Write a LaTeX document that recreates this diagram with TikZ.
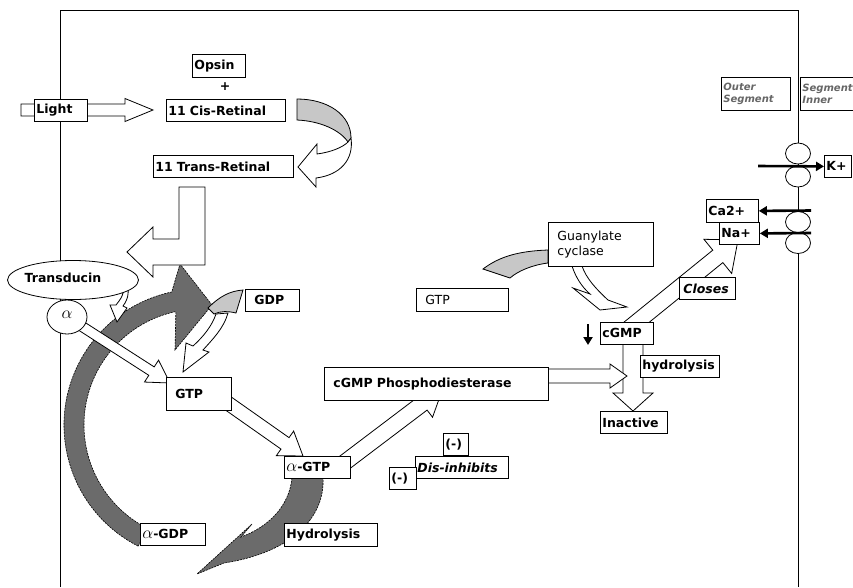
\documentclass[tikz,border=0pt]{standalone}
\usepackage{fontspec}
\setmainfont{DejaVu Sans}
\usetikzlibrary{calc,arrows.meta,shapes.geometric}

\newcommand{\lbl}{\fontsize{12.5}{14}\selectfont\bfseries}
\newcommand{\reg}{\fontsize{12.5}{15.5}\selectfont}
\newcommand{\seg}{\fontsize{10}{12}\selectfont\bfseries\itshape}
\newcommand{\alp}{{\fontsize{16}{16}\selectfont$\alpha$}}

\tikzset{
  lblbox/.style={draw, fill=white, line width=0.8pt, inner xsep=2pt, inner ysep=0pt, anchor=north west, align=left, font=\lbl},
  hollow/.style={draw, fill=white, line width=0.8pt, line join=miter},
  darkband/.style={fill=black!58, draw=black, dash pattern=on 2pt off 1pt, line width=0.6pt},
  flag/.style={draw, fill=black!22, line width=0.8pt},
  ion/.style={-{Triangle[length=8pt,width=9pt]}, line width=2.6pt},
  channel/.style={draw, fill=white, ellipse, minimum width=25pt, minimum height=21pt, line width=0.8pt},
}

% box with its top left corner at x,y
\newcommand{\labelbox}[7][]{%
  \pgfmathsetmacro{\bxw}{#5-4}%
  \node[lblbox,text width=\bxw pt,minimum height=#6pt,#1] (#2) at (#3,#4) {#7};}

% hollow straight arrow: tail, tip, shaft half width, head half width, head length
\newcommand{\fatarrow}[5]{%
  \coordinate (fa-base) at ($(#2)!#5pt!(#1)$);
  \draw[hollow] ($(#1)!#3pt!90:(#2)$) -- ($(fa-base)!#3pt!-90:(#1)$) -- ($(fa-base)!#4pt!-90:(#1)$) -- (#2)
    -- ($(fa-base)!#4pt!90:(#1)$) -- ($(fa-base)!#3pt!90:(#1)$) -- ($(#1)!#3pt!-90:(#2)$) -- cycle;}

\begin{document}
\begin{tikzpicture}[x=1pt,y=-1pt]
\clip (0,0) rectangle (853,587);
\fill[white] (0,0) rectangle (853,587);
\draw[line width=0.8pt] (60,587) -- (60,10) -- (798,10) -- (798,587);

% transducin cycle
\draw[darkband] (200,425) ++(117:136) arc[start angle=117, end angle=258, radius=136]
  -- (180,264) -- (212,305) -- (175,350) -- ($(200,425)+(258:116)$)
  arc[start angle=258, end angle=117, radius=116] -- cycle;
\draw[darkband] (292,478) -- (323,478) .. controls (325,515) and (295,552) .. (224,563) -- (197,574)
  -- (252,524) -- (241,537) .. controls (268,527) and (289,507) .. (292,478) -- cycle;

% retinal
\draw[flag] (297,99) .. controls (328,99) and (351,115) .. (351,138) -- (348,142)
  .. controls (340,130) and (320,121) .. (297,120) -- cycle;
\draw[hollow] (351,138) .. controls (354,160) and (340,175) .. (316,178) -- (316,187) -- (298,167)
  -- (317,144) -- (317,154) .. controls (332,152) and (343,147) .. (348,142) -- cycle;
\draw[hollow] (179,187) -- (205,187) -- (205,265) -- (153,265) -- (153,277) -- (127,252)
  -- (153,227) -- (153,239) -- (179,239) -- cycle;

\draw[flag] (113,279) .. controls (120,276) and (126,280) .. (128,287) -- (123,293)
  .. controls (121,289) and (117,287) .. (114,289) -- cycle;
\draw[hollow] (128,287) .. controls (129,297) and (126,302) .. (123,306) -- (127,308) -- (117,322)
  -- (110,305) -- (116,305) .. controls (120,300) and (122,297) .. (123,293) -- cycle;

\draw[flag] (208,308) .. controls (220,296) and (230,291) .. (243,290) -- (236,313)
  .. controls (228,311) and (220,311) .. (214,314) -- cycle;
\draw[hollow] (228,313) .. controls (224,328) and (212,340) .. (203,350) -- (209,352) -- (183,372)
  -- (186,343) -- (193,346) .. controls (203,337) and (212,326) .. (216,314) -- cycle;

% guanylate cyclase
\draw[flag] (483,269) .. controls (500,256) and (520,251) .. (548,250) -- (548,263)
  .. controls (532,265) and (518,271) .. (510,278) -- cycle;
\draw[hollow] (572,266) .. controls (576,278) and (582,287) .. (590,294) -- (573,288) -- (600,310)
  -- (627,307) -- (608,300) .. controls (596,289) and (586,278) .. (582,266) -- cycle;

\coordinate (light-tail) at (21,110);
\coordinate (light-tip) at (153,110);
\fatarrow{light-tail}{light-tip}{6}{11.5}{28}
\coordinate (alpha-out) at (72,320);
\coordinate (gtpL-in) at (170,383);
\fatarrow{alpha-out}{gtpL-in}{5}{13}{22}
\coordinate (gtpL-out) at (212,392);
\coordinate (agtp-in) at (303,456);
\fatarrow{gtpL-out}{agtp-in}{7}{15}{22}
\coordinate (agtp-out) at (340,466);
\coordinate (pde-in) at (443,388);
\fatarrow{agtp-out}{pde-in}{8}{17}{26}
\coordinate (cgmp-out) at (633,340);
\coordinate (inactive-in) at (633,411);
\fatarrow{cgmp-out}{inactive-in}{10}{20}{18}
\coordinate (pde-out) at (545,376);
\coordinate (pde-tip) at (627,376);
\fatarrow{pde-out}{pde-tip}{7}{12}{17}
\coordinate (closes-tail) at (627,330);
\coordinate (closes-tip) at (738,240);
\fatarrow{closes-tail}{closes-tip}{8}{22}{26}

\labelbox{opsin}{192}{54}{53}{23}{Opsin}
\node[font=\lbl] (plus) at (225,87) {+};
\labelbox{cis}{166}{99}{119}{22}{11 Cis-Retinal}
\labelbox{light}{34}{99}{53}{22}{Light}
\labelbox{trans}{153}{155}{140}{22}{11 Trans-Retinal}
\node[ellipse, draw, fill=white, line width=0.8pt, minimum width=131pt, minimum height=39pt] (transducin) at (73,280) {};
\node[font=\lbl] (transducin-txt) at (63,278) {Transducin};
\node[ellipse, draw, fill=white, line width=0.8pt, minimum width=40pt, minimum height=34pt, inner sep=0pt] (alpha) at (67,317) {\raisebox{5pt}{\alp}};
\labelbox{gdp}{245}{289}{54}{22}{\hspace*{7pt}GDP}
\labelbox{gtpL}{166}{377}{65}{33}{\hspace*{7pt}GTP}
\labelbox{agtp}{284}{456}{66}{22}{\alp-GTP}
\labelbox{agdp}{140}{523}{65}{22}{\alp-GDP}
\labelbox{hydro}{284}{523}{93}{23}{Hydrolysis}
\labelbox{pde}{324}{367}{224}{33}{\hspace*{7pt}cGMP Phosphodiesterase}
\labelbox[font=\reg]{gtpR}{416}{288}{92}{23}{\hspace*{7pt}GTP}
\labelbox[font=\reg]{guan}{548}{222}{105}{44}{\hspace*{7pt}Guanylate\\\hspace*{7pt}cyclase}
\labelbox{cgmp}{600}{322}{53}{22}{cGMP}
\labelbox{hydr2}{640}{355}{79}{22}{hydrolysis}
\labelbox{inactive}{600}{411}{67}{22}{Inactive}
\labelbox[font=\lbl\itshape]{closes}{679}{277}{56}{22}{\hspace*{2pt}Closes}
\labelbox{minus1}{443}{433}{25}{22}{(-)}
\labelbox[font=\lbl\itshape]{disinh}{415}{456}{93}{22}{Dis-inhibits}
\labelbox{minus2}{389}{467}{27}{22}{(-)}

% membrane channels
\labelbox[font=\seg,text=black!60]{outer}{721}{77}{69}{33}{Outer\\Segment}
\labelbox[font=\seg,text=black!60]{inner}{800}{77}{60}{33}{Segment\\Inner}
\node[channel] (k-up) at (798,153.5) {};
\node[channel] (k-dn) at (798,176.5) {};
\node[channel] (c-up) at (798,222) {};
\node[channel] (c-dn) at (798,243) {};
\labelbox{ca}{706}{199}{52}{23}{Ca2+}
\labelbox{na}{719}{222}{40}{22}{Na+}
\labelbox{kplus}{824}{155}{27}{22}{K+}
\coordinate (k-from) at (758,166);
\coordinate (ca-from) at (811,210.5);
\coordinate (na-from) at (811,233);
\draw[ion] (k-from) -- (kplus.west);
\draw[ion] (ca-from) -- (ca.east);
\draw[ion] (na-from) -- (na.east);
\coordinate (drop-top) at (588,324);
\coordinate (drop-end) at (588,345);
\draw[ion, line width=2.2pt] (drop-top) -- (drop-end);
\end{tikzpicture}
\end{document}
